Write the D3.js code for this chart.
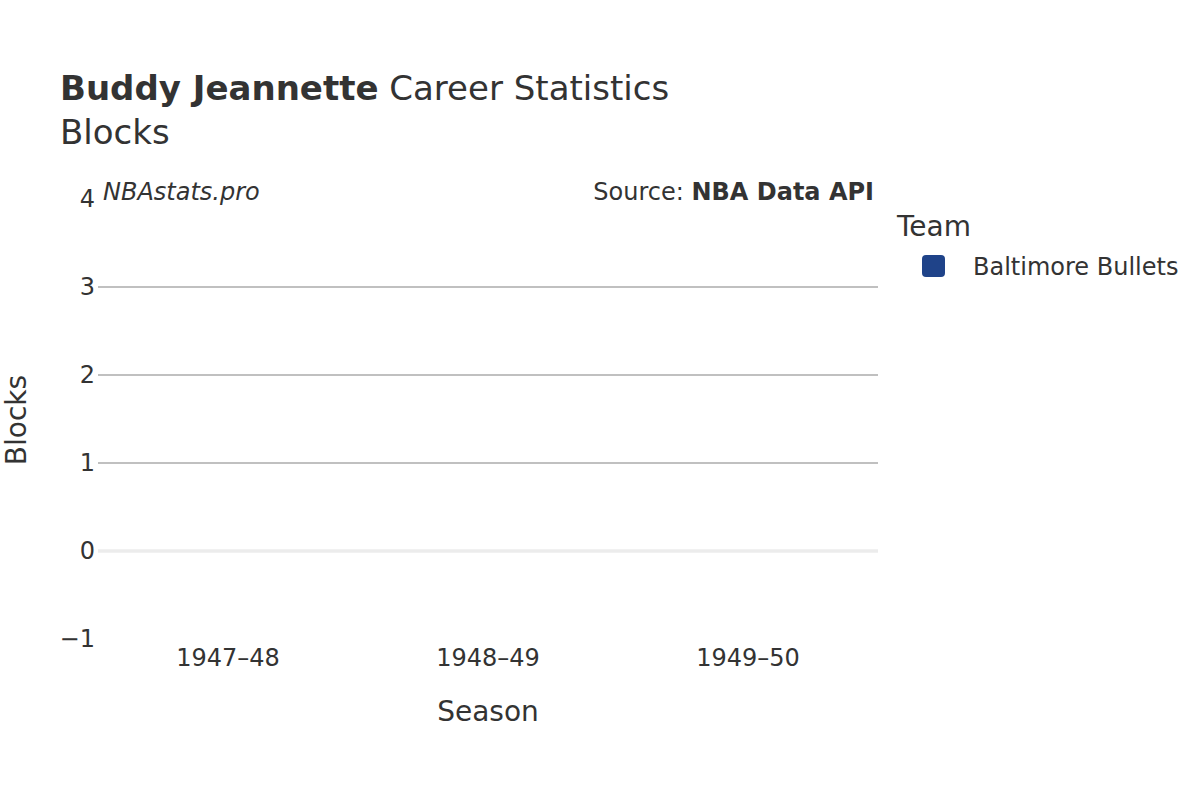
<!DOCTYPE html>
<html><head><meta charset="utf-8">
<script src="https://cdn.jsdelivr.net/npm/d3@7"></script>
<style>body{margin:0;background:#fff}text{font-family:"DejaVu Sans",sans-serif;fill:#333}</style>
</head><body>
<svg id="chart" width="1200" height="800"></svg>
<script>
let seasons = ["1947–48", "1948–49", "1949–50"]
let blocks = [0, 0, 0]
let yTicks = [-1, 0, 1, 2, 3, 4]
let teams = ["Baltimore Bullets"]
let teamColors = ["#1f4389"]

let svg = d3.select("#chart")
let x = d3.scaleBand().domain(seasons).range([98, 878])
let y = d3.scaleLinear().domain([-1, 4]).range([639, 199])

svg.append("g").selectAll("line")
    .data(yTicks.filter(t => t > 0 && t < 4))
    .enter().append("line")
    .attr("x1", 98).attr("x2", 878)
    .attr("y1", d => y(d)).attr("y2", d => y(d))
    .attr("stroke", "#c0c0c0").attr("stroke-width", 1.8)

svg.append("line").attr("x1", 98).attr("x2", 878)
    .attr("y1", y(0)).attr("y2", y(0))
    .attr("stroke", "#ececec").attr("stroke-width", 3.5)

svg.append("g").selectAll("text")
    .data(yTicks).enter().append("text")
    .attr("x", 95).attr("y", d => y(d) + 8)
    .attr("text-anchor", "end").attr("font-size", 24)
    .text(d => d < 0 ? "−" + Math.abs(d) : d)

svg.append("g").selectAll("text")
    .data(seasons).enter().append("text")
    .attr("x", d => x(d) + x.bandwidth() / 2).attr("y", 666)
    .attr("text-anchor", "middle").attr("font-size", 24)
    .text(d => d)

svg.append("g").selectAll("rect")
    .data(seasons).enter().append("rect")
    .attr("x", d => x(d) + x.bandwidth() * 0.1)
    .attr("width", x.bandwidth() * 0.8)
    .attr("y", (d, i) => y(Math.max(0, blocks[i])))
    .attr("height", (d, i) => Math.abs(y(blocks[i]) - y(0)))
    .attr("fill", teamColors[0])

svg.append("text").attr("x", 488).attr("y", 721).attr("text-anchor", "middle")
    .attr("font-size", 28).text("Season")
svg.append("text").attr("transform", "translate(26,420) rotate(-90)")
    .attr("text-anchor", "middle").attr("font-size", 28).text("Blocks")

let title = svg.append("text").attr("x", 60).attr("y", 100).attr("font-size", 34)
title.append("tspan").attr("font-weight", "bold").text("Buddy Jeannette")
title.append("tspan").text(" Career Statistics")
svg.append("text").attr("x", 60).attr("y", 144).attr("font-size", 34).text("Blocks")

svg.append("text").attr("x", 103).attr("y", 200).attr("font-size", 24)
    .attr("font-style", "italic").text("NBAstats.pro")
let src = svg.append("text").attr("x", 874).attr("y", 200).attr("font-size", 24)
    .attr("text-anchor", "end")
src.append("tspan").text("Source: ")
src.append("tspan").attr("font-weight", "bold").text("NBA Data API")

svg.append("text").attr("x", 897).attr("y", 236).attr("font-size", 28).text("Team")
let leg = svg.append("g").selectAll("g").data(teams).enter().append("g")
    .attr("transform", (d, i) => "translate(922," + (255 + i * 30) + ")")
leg.append("rect").attr("width", 23).attr("height", 22).attr("rx", 4)
    .attr("fill", (d, i) => teamColors[i])
leg.append("text").attr("x", 51).attr("y", 20).attr("font-size", 24).text(d => d)
</script>
</body></html>
